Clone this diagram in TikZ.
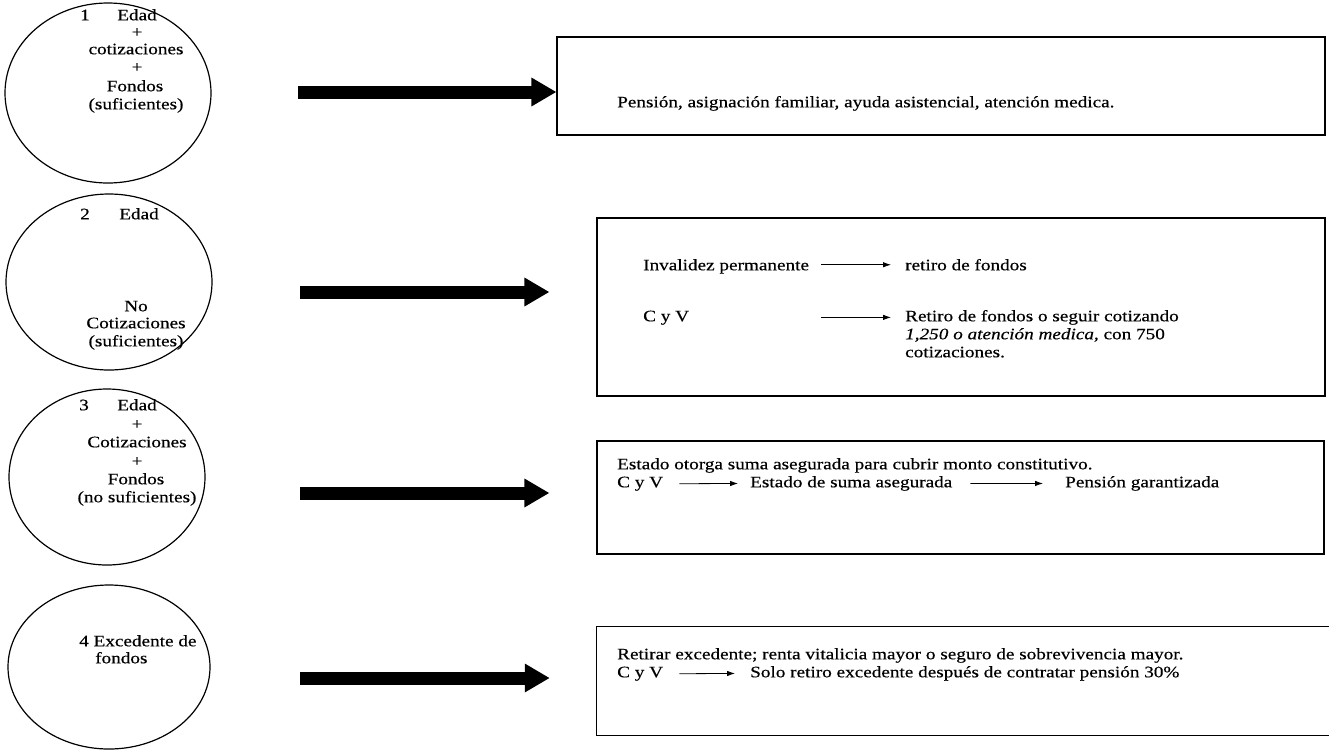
\documentclass[tikz,border=0pt]{standalone}
\usepackage{fontspec}
\setmainfont{Liberation Serif}[FakeBold=0.45, FakeStretch=1.2]
\usetikzlibrary{arrows.meta,shapes.geometric}
\begin{document}
\begin{tikzpicture}[x=1pt,y=-1pt,
  txt/.style={inner sep=0pt, font=\fontsize{16}{18}\selectfont},
  lt/.style={txt, anchor=mid west},
  ct/.style={txt, anchor=mid},
  oval/.style={draw, ellipse, line width=1.2pt, inner sep=0pt},
  panel/.style={draw, rectangle, line width=1.1pt, inner sep=0pt},
  bigarrow/.style={line width=13pt, -{Triangle[length=25pt,width=27pt]}},
  thinarrow/.style={line width=0.8pt, -{Latex[length=8pt,width=5.5pt]}}]
\useasboundingbox (0,0) rectangle (1329,750);

% conditions (ovals)
\node[oval, minimum width=206pt, minimum height=180pt] (e1) at (108,93) {};
\node[oval, minimum width=206pt, minimum height=176pt] (e2) at (109,282) {};
\node[oval, minimum width=196pt, minimum height=176pt] (e3) at (107,477) {};
\node[oval, minimum width=202pt, minimum height=164pt] (e4) at (109,667) {};

% oval 1
\node[ct] (n1) at (85,18) {1};
\node[ct] (e1a) at (137,18) {Edad};
\node[ct] (e1b) at (137,35) {+};
\node[ct] (e1c) at (136,52) {cotizaciones};
\node[ct] (e1d) at (137,70) {+};
\node[ct] (e1e) at (135,89) {Fondos};
\node[ct] (e1f) at (136,107) {(suficientes)};

% oval 2
\node[ct] (n2) at (85,217) {2};
\node[ct] (e2a) at (139,217) {Edad};
\node[ct] (e2b) at (136,309) {No};
\node[ct] (e2c) at (136,326) {Cotizaciones};
\node[ct] (e2d) at (136,344) {(suficientes)};

% oval 3
\node[ct] (n3) at (84,408) {3};
\node[ct] (e3a) at (137,408) {Edad};
\node[ct] (e3b) at (137,427) {+};
\node[ct] (e3c) at (137,445) {Cotizaciones};
\node[ct] (e3d) at (137,464) {+};
\node[ct] (e3e) at (136,482) {Fondos};
\node[ct] (e3f) at (137,500) {(no suficientes)};

% oval 4
\node[lt] (e4a) at (79,644) {4 Excedente de};
\node[lt] (e4b) at (95,661) {fondos};

% outcome panels
\node[panel, minimum width=768pt, minimum height=98pt] (b1) at (941,86) {};
\node[panel, minimum width=728pt, minimum height=178pt] (b2) at (961,307) {};
\node[panel, minimum width=727pt, minimum height=113pt] (b3) at (960.5,497.5) {};
\node[minimum width=743pt, minimum height=108pt, inner sep=0pt] (b4) at (968.5,681) {};
\draw[line width=1.1pt] (b4.north east) -- (b4.north west) -- (b4.south west) -- (b4.south east);

% big arrows
\coordinate (a1) at (298,92);
\coordinate (a2) at (300,292);
\coordinate (a3) at (300,493);
\coordinate (a4) at (300,678);
\draw[bigarrow] (a1) -- (a1 -| b1.west);
\draw[bigarrow] (a2) -- ([xshift=-47pt]a2 -| b2.west);
\draw[bigarrow] (a3) -- ([xshift=-47pt]a3 -| b3.west);
\draw[bigarrow] (a4) -- ([xshift=-47pt]a4 -| b4.west);

% panel 1
\node[lt] (t1) at (617,105) {Pensión, asignación familiar, ayuda asistencial, atención medica.};

% panel 2
\node[lt] (t2a) at (643,268) {Invalidez permanente};
\node[lt] (t2b) at (905,268) {retiro de fondos};
\draw[thinarrow] ([xshift=-84pt]t2b.west) -- ([xshift=-14pt]t2b.west);
\node[lt] (t2c) at (643,319) {C y V};
\node[lt] (t2d) at (905,319) {Retiro de fondos o seguir cotizando};
\node[lt] (t2e) at (905,337) {\textit{1,250 o atención medica,} con 750};
\node[lt] (t2f) at (905,355) {cotizaciones.};
\draw[thinarrow] ([xshift=-84pt]t2d.west) -- ([xshift=-14pt]t2d.west);

% panel 3
\node[lt] (t3a) at (617,467) {Estado otorga suma asegurada para cubrir monto constitutivo.};
\node[lt] (t3b) at (617,485) {C y V};
\node[lt] (t3c) at (750,485) {Estado de suma asegurada};
\node[lt] (t3d) at (1065,485) {Pensión garantizada};
\draw[thinarrow] ([xshift=16pt]t3b.east) -- ([xshift=-12pt]t3c.west);
\draw[thinarrow] ([xshift=18pt]t3c.east) -- ([xshift=-22pt]t3d.west);

% panel 4
\node[lt] (t4a) at (617,657) {Retirar excedente; renta vitalicia mayor o seguro de sobrevivencia mayor.};
\node[lt] (t4b) at (617,675) {C y V};
\node[lt] (t4c) at (750,675) {Solo retiro excedente después de contratar pensión 30\%};
\draw[thinarrow] ([xshift=16pt]t4b.east) -- ([xshift=-15pt]t4c.west);
\end{tikzpicture}
\end{document}
